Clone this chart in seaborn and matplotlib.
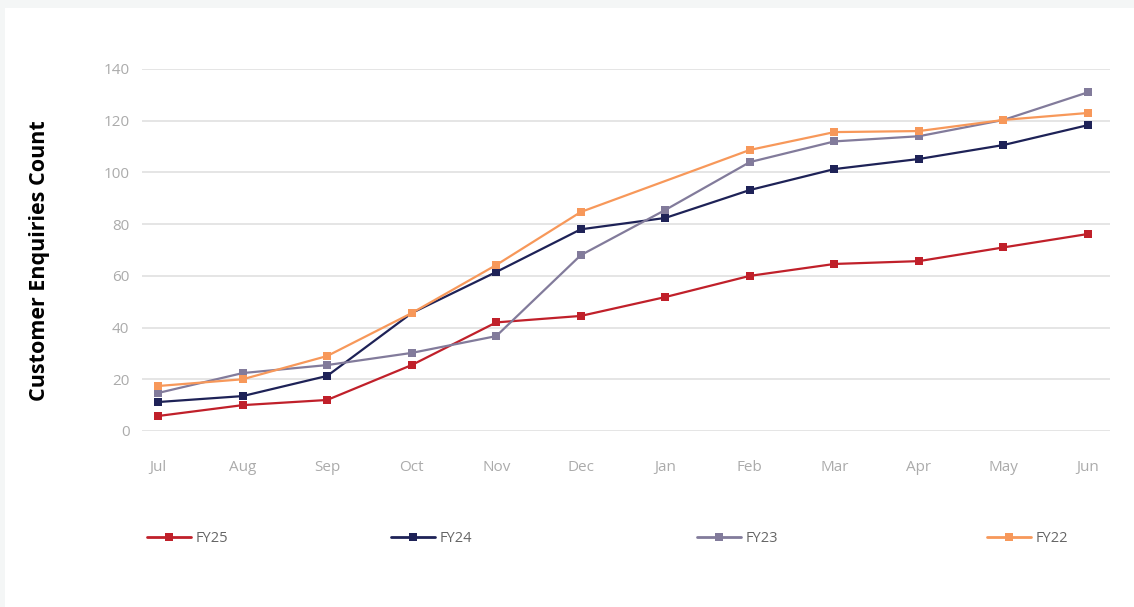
import pandas as pd
import numpy as np
import matplotlib
matplotlib.use("Agg")
import matplotlib.pyplot as plt
import seaborn as sns
from matplotlib.patches import Rectangle

# data
months = ["Jul", "Aug", "Sep", "Oct", "Nov", "Dec", "Jan", "Feb", "Mar", "Apr", "May", "Jun"]
fy25 = [5.8, 10.0, 12.0, 25.5, 42.0, 44.5, 51.8, 60.0, 64.6, 65.7, 71.0, 76.2]
fy24 = [11.2, 13.5, 21.3, 45.6, 61.5, 78.0, 82.4, 93.2, 101.3, 105.2, 110.6, 118.3]
fy23 = [14.7, 22.4, 25.5, 30.2, 36.7, 68.0, 85.5, 104.0, 112.0, 114.0, 120.3, 131.0]
fy22 = [17.4, 20.0, 29.0, 45.6, 64.2, 84.7, np.nan, 108.7, 115.6, 116.0, 120.3, 123.0]
series = ["FY25", "FY24", "FY23", "FY22"]
colors = {"FY25": "#C0202A", "FY24": "#1E2257", "FY23": "#827B9B", "FY22": "#F7985A"}

rows = []
for name, vals in zip(series, [fy25, fy24, fy23, fy22]):
    for m, v in zip(months, vals):
        rows.append({"Month": m, "Count": v, "Year": name})
df = pd.DataFrame(rows).dropna()

sns.set_theme(style="white")
plt.rcParams["font.family"] = ["Open Sans", "DejaVu Sans"]

fig = plt.figure(figsize=(11.34, 6.07), dpi=100)
fig.patch.set_facecolor("#F4F6F6")
card = Rectangle((5 / 1134, 0), 1, 1 - 8 / 607, transform=fig.transFigure,
                 facecolor="white", edgecolor="none", zorder=-10)
fig.patches.append(card)

ax = fig.add_axes([142 / 1134, 1 - 431 / 607, 968 / 1134, 362 / 607])
ax.set_facecolor("none")

sns.lineplot(data=df, x="Month", y="Count", hue="Year", hue_order=series,
             palette=colors, marker="s", markersize=5.5, markeredgewidth=0,
             linewidth=1.6, sort=False, ax=ax)

ax.set_ylim(0, 140)
ax.set_xlim(-0.19, 11.26)
ax.set_yticks(range(0, 141, 20))
ax.grid(axis="y", color="#E0E0E0", linewidth=1.2)
ax.set_axisbelow(True)
for s in ax.spines.values():
    s.set_visible(False)
ax.tick_params(axis="both", length=0, labelsize=11, labelcolor="#ABABAB")
ax.tick_params(axis="y", pad=9)
ax.tick_params(axis="x", pad=21)
ax.set_xlabel("")
ax.set_ylabel("")

fig.text(40 / 1134, 1 - 261 / 607, "Customer Enquiries Count", rotation=90,
         ha="center", va="center", fontsize=15.5, fontweight="bold", color="black")

handles, labels = ax.get_legend_handles_labels()
ax.get_legend().remove()
leg_x = [143, 387, 693, 983]
for h, l, x in zip(handles, labels, leg_x):
    h.set_linewidth(2.0)
    fig.legend([h], [l], loc="center left", bbox_to_anchor=(x / 1134, 1 - 539 / 607),
               frameon=False, fontsize=10.5, labelcolor="#666666",
               handlelength=3.0, handletextpad=0.3, borderaxespad=0, borderpad=0.3)

fig.savefig("out.png", dpi=100, facecolor=fig.get_facecolor())
